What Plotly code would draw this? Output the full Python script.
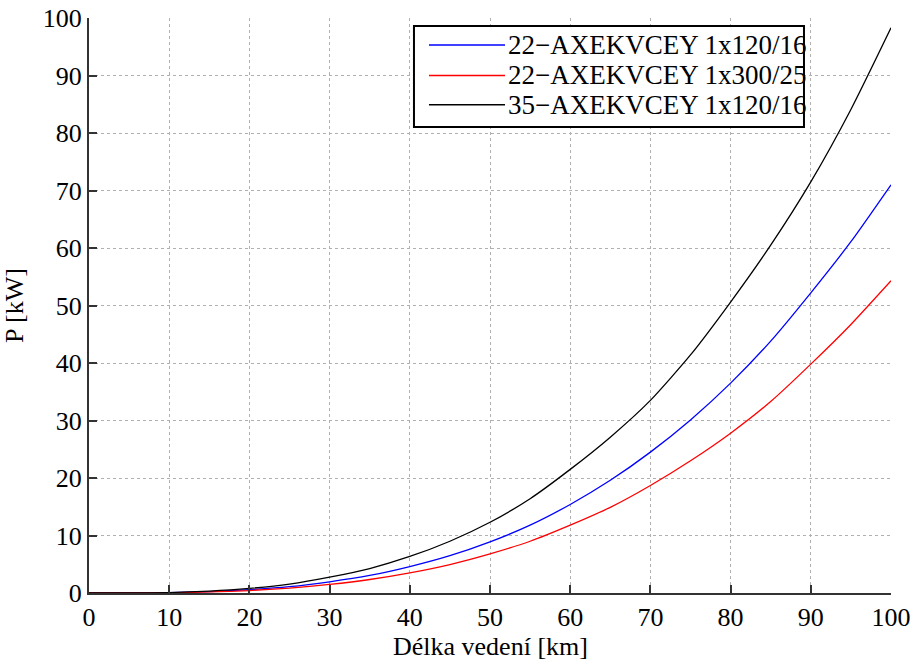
import plotly.graph_objects as go

length_km = [0, 5, 10, 15, 20, 25, 30, 35, 40, 45, 50, 55, 60, 65, 70, 75, 80, 85, 90, 95, 100]

p_22_120 = [0, 0, 0.05, 0.24, 0.57, 1.1, 1.95, 3.05, 4.6, 6.5, 8.9, 11.8, 15.4, 19.6, 24.5, 30.1, 36.5, 43.8, 52.2, 61.1, 71.0]
p_22_300 = [0, 0, 0.03, 0.18, 0.43, 0.85, 1.5, 2.35, 3.5, 4.95, 6.8, 9.0, 11.8, 14.9, 18.7, 23.0, 27.8, 33.3, 39.8, 46.7, 54.3]
p_35_120 = [0, 0, 0.08, 0.33, 0.8, 1.55, 2.75, 4.25, 6.35, 9.0, 12.3, 16.4, 21.5, 27.1, 33.5, 41.4, 50.6, 60.5, 71.5, 84.1, 98.3]

series_names = ["22\u2212AXEKVCEY 1x120/16", "22\u2212AXEKVCEY 1x300/25", "35\u2212AXEKVCEY 1x120/16"]
series_colors = ["#0000ff", "#ff0000", "#000000"]

x_ticks = list(range(0, 101, 10))
y_ticks = list(range(0, 101, 10))

FONT = "Liberation Serif, Times New Roman, serif"

fig = go.Figure()
for name, vals, col in zip(series_names, [p_22_120, p_22_300, p_35_120], series_colors):
    fig.add_trace(go.Scatter(
        x=length_km, y=vals, mode="lines", name=name, showlegend=False,
        line=dict(color=col, width=1.3, shape="spline", smoothing=0.6),
    ))

axis_common = dict(
    showgrid=True, gridcolor="#b0b0b0", griddash="dot", gridwidth=1,
    showline=True, linecolor="#333333", linewidth=2,
    ticks="inside", ticklen=8, tickwidth=2, tickcolor="#333333",
    zeroline=False, mirror=False, automargin=False,
    tickfont=dict(family=FONT, size=26, color="black"),
)

fig.update_xaxes(
    range=[0, 100], tickvals=x_ticks, ticktext=[str(v) for v in x_ticks],
    ticklabelstandoff=0,
    **axis_common,
)
fig.update_yaxes(
    range=[0, 100], tickvals=y_ticks, ticktext=[str(v) for v in y_ticks],
    title=dict(text="P [kW]", font=dict(family=FONT, size=26, color="black"), standoff=14),
    **axis_common,
)

# x-axis title as an annotation just below the tick labels
fig.add_annotation(xref="paper", yref="paper", x=0.5, y=-0.0925, text="Délka vedení [km]",
                   showarrow=False, xanchor="center", yanchor="middle",
                   font=dict(family=FONT, size=26, color="black"))

# Legend drawn in paper coordinates (box, sample lines, labels)
leg_x0, leg_x1 = 0.4052, 0.8915
leg_y0, leg_y1 = 0.8104, 0.9861
row_y = [0.953, 0.900, 0.849]
line_x0, line_x1 = 0.4239, 0.5187
fig.add_shape(type="rect", xref="paper", yref="paper", x0=leg_x0, x1=leg_x1, y0=leg_y0, y1=leg_y1,
              line=dict(color="black", width=2), fillcolor="white", layer="above")
for name, col, ry in zip(series_names, series_colors, row_y):
    fig.add_shape(type="line", xref="paper", yref="paper", x0=line_x0, x1=line_x1, y0=ry, y1=ry,
                  line=dict(color=col, width=1.5), layer="above")
    fig.add_annotation(xref="paper", yref="paper", x=line_x1 + 0.001, y=ry, text=name,
                       showarrow=False, xanchor="left", yanchor="middle",
                       font=dict(family=FONT, size=27, color="black"))

fig.update_layout(
    width=915, height=660,
    margin=dict(l=89, r=24, t=18, b=67),
    paper_bgcolor="white", plot_bgcolor="white",
    font=dict(family=FONT, size=26, color="black"),
    showlegend=False,
)

fig.write_html("out.html", config={"displayModeBar": False},
               post_script="document.body.style.margin='0';")
